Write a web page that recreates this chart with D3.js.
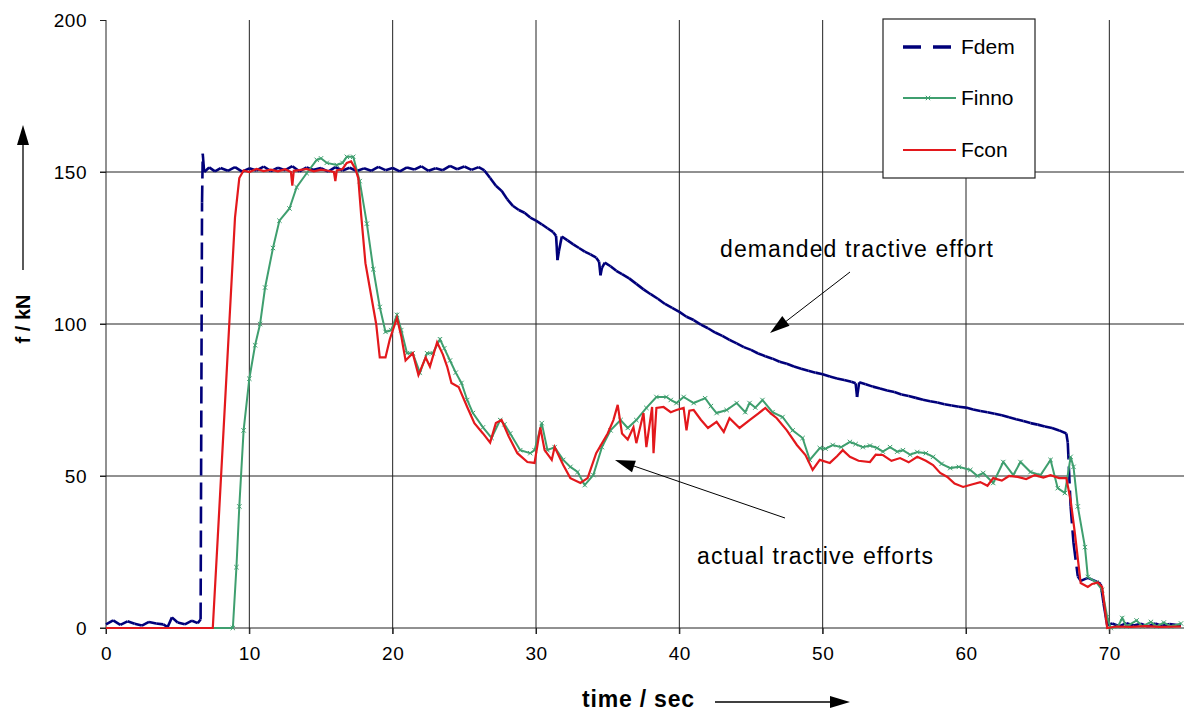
<!DOCTYPE html>
<html lang="en">
<head>
  <meta charset="UTF-8">
  <title>Tractive effort</title>
  <style>
    body { margin: 0; background: #fff; }
    text { font-family: "Liberation Sans", Arial, sans-serif; }
  </style>
</head>
<body>
  <svg id="svg" width="1184" height="716"></svg>

  <script src="https://d3js.org/d3.v7.min.js"></script>
  <script>
    // series: [time in s, force in kN]
    const fdem = [[0,1.2],[0.5,2.5],[1,1.0],[1.5,2.2],[2,1.4],[2.5,0.8],[3,2.0],[3.5,1.5],[4,1.2],[4.3,0.3],[4.6,3.5],[5,1.8],[5.5,1.2],[6,2.4],[6.4,1.6],[6.6,2.8],
      [6.7,140],[6.75,156],[6.85,150],[7.2,151.5],[7.6,150.2],[8,151.3],[8.5,150.4],[9,151.6],[9.5,150.1],[10,151.2],[10.5,150.5],[11,151.8],[11.5,150.3],[12,151.4],[12.5,150.6],[13,151.9],[13.5,150.2],[14,151.5],[14.5,150.7],[15,151.3],[15.5,150.1],[16,151.6],[16.5,150.5],[17,151.4],[17.5,150.3],[18,151.2],[18.5,150.4],[19,151.7],[19.5,150.6],[20,151.3],[20.5,150.2],[21,151.5],[21.5,150.8],[22,151.9],[22.5,150.4],[23,151.2],[23.5,150.6],[24,152.0],[24.5,150.9],[25,151.8],[25.5,150.7],[26,151.6],[26.4,150.5],
      [26.8,148],[27.2,145.5],[27.6,143.8],[28,141],[28.4,138.8],[28.8,137.5],[29.2,136.6],[29.6,135],[30,134],[30.4,132.8],[30.8,131.5],[31.2,130.2],[31.4,129],[31.5,121],[31.6,124],[31.8,128.8],[32.2,127.5],[32.6,126.2],[33,125],[33.4,123.8],[33.8,122.9],[34.2,121.8],[34.4,120.5],[34.5,116],[34.6,118.5],[34.8,120.2],[35.2,119],[35.6,117.5],[36,116.4],[36.5,115],[37,113.2],[37.5,111.4],[38,109.8],[38.5,108.3],[39,106.6],[39.5,105.3],[40,104],[40.5,102.4],[41,101.3],[41.5,99.8],[42,98.6],[42.5,97.2],[43,96.1],[43.5,94.8],[44,93.6],[44.5,92.4],[45,91.5],[45.5,90.3],[46,89.4],[46.5,88.6],[47,87.6],[47.5,86.9],[48,86],[48.5,85.3],[49,84.6],[49.5,84],[50,83.5],[50.5,82.7],[51,82.1],[51.5,81.6],[52,81],[52.3,80.5],[52.4,76],[52.55,80.8],[53,80.2],[53.5,79.4],[54,78.8],[54.5,78.1],[55,77.6],[55.5,76.8],[56,76.3],[56.5,75.7],[57,75.1],[57.5,74.6],[58,74.2],[58.5,73.6],[59,73.2],[59.5,72.8],[60,72.5],[60.5,71.9],[61,71.4],[61.5,71],[62,70.5],[62.5,70],[63,69.3],[63.5,68.7],[64,68.1],[64.5,67.4],[65,66.9],[65.5,66.3],[66,65.8],[66.5,65],[67,64],
      [67.1,61],[67.3,40],[67.5,28],[67.8,17],[68,15.5],[68.5,16.5],[69,15.5],[69.4,14.5],[69.6,8],[69.85,1],[70.2,1.5],[70.7,0.6],[71.2,1.6],[71.7,0.8],[72.2,1.4],[72.7,0.5],[73.2,1.5],[73.7,0.7],[74.2,1.3],[75,0.8]]

    const finno = [[0,0],[8.85,0],[9.1,20],[9.3,40],[9.6,65],[10.0,82],[10.4,93],[10.75,100],[11.1,112],[11.65,125],[12.1,134],[12.8,138],[13.3,145],[14.0,149.6],[14.7,154],[15.0,154.5],[15.4,153],[16.1,152.3],[16.5,153],[16.8,155],[17.25,155],[17.7,147],[18.2,133],[18.65,118],[19.1,105.6],[19.5,97.4],[19.9,98],[20.3,103],[20.6,98],[21.0,90.4],[21.4,90.4],[21.9,84],[22.4,90.4],[22.8,90.4],[23.3,95],[23.6,92],[24.0,88],[24.4,84],[24.8,80.6],[25.2,75],[25.6,70.7],[26.3,66],[26.9,62.5],[27.5,68.4],[27.8,67],[28.2,64],[28.9,58.5],[29.6,57.5],[29.9,58.5],[30.4,67.4],[30.8,58.5],[31.3,59.5],[31.9,55.3],[32.4,53],[32.9,51.3],[33.4,47],[34.0,50.3],[34.6,59.5],[35.2,65],[35.9,68.4],[36.4,65.8],[37.0,68.4],[37.7,72.4],[38.4,76],[39.1,76],[39.4,75],[39.8,74],[40.3,76],[41.0,74],[41.8,75.6],[42.2,73],[42.6,70.7],[43.3,71.7],[44.0,74],[44.6,71],[44.9,74],[45.3,72.5],[45.8,75],[46.5,71],[47.2,69.4],[47.9,65],[48.6,62.5],[49.1,55.3],[49.8,59.2],[50.2,59],[50.7,60.2],[51.3,59.5],[51.9,61.2],[52.3,60.5],[52.8,59.5],[53.3,60],[53.8,59.2],[54.2,58],[54.7,59.5],[55.2,58],[55.6,58.5],[56.1,57],[56.6,57.9],[57.2,57.5],[57.7,56.3],[58.3,54],[58.9,52.6],[59.5,53],[60.3,52],[60.8,50],[61.2,51],[61.9,47.7],[62.6,54.6],[63.3,50.3],[63.8,54.6],[64.5,51.3],[65.2,50.3],[65.9,55.3],[66.4,46],[66.9,44.4],[67.3,56.3],[67.5,53],[67.8,40],[68.3,26.6],[68.5,16.8],[69.1,15],[69.5,12.5],[69.85,3.6],[70.1,0],[70.6,0.5],[70.9,3.3],[71.2,0.5],[71.9,2.5],[72.3,0.5],[72.9,2],[73.3,0.5],[73.8,1.8],[74.3,0.5],[75,1.5]]

    const fcon = [[0,0],[7.45,0],[7.8,30],[8.2,65],[8.6,100],[9.0,135],[9.3,148],[9.6,150.5],[10,150],[10.5,151],[11,150.3],[11.5,150.8],[12,150.2],[12.5,150.9],[12.9,150],[13.0,145.5],[13.1,150.4],[13.5,150.6],[14,151],[14.5,150.2],[15,150.8],[15.5,150.4],[15.9,150],[16.0,147],[16.1,150.5],[16.5,151],[16.8,153],[17.1,153.5],[17.4,151],[17.6,148],[17.8,136],[18.1,120],[18.4,112],[18.85,100],[19.1,89],[19.5,89],[19.8,95],[20.3,102],[20.6,96],[20.9,88],[21.4,90.4],[21.8,83.2],[22.3,89],[22.6,86],[23.1,94],[23.5,90],[23.8,86],[24.1,80.6],[24.6,79.3],[25.2,72.7],[25.7,67.4],[26.3,64],[26.8,61],[27.2,67.4],[27.6,68.4],[28.1,63],[28.7,57.5],[29.4,54.6],[29.9,54.3],[30.3,66],[30.6,58.5],[31.1,55.3],[31.3,59.5],[31.9,53.6],[32.4,49.3],[33.1,47.7],[33.6,49.3],[34.2,57.5],[35.0,64],[35.4,68.4],[35.7,73.4],[36.0,64],[36.4,62],[36.8,66],[37.0,60.8],[37.5,70.7],[37.7,59.5],[38.1,72.7],[38.2,57.5],[38.4,72.4],[38.9,72.7],[39.4,71],[39.8,71.7],[40.3,72.4],[40.5,65],[40.7,71.5],[41.0,71.7],[41.5,68.5],[42.0,65.8],[42.6,67.8],[43.1,64.5],[43.5,69],[44.2,65.8],[44.9,68.4],[45.5,70.5],[46.0,72.4],[46.4,70.5],[46.8,69],[47.5,65],[48.2,60.2],[48.8,56.9],[49.3,52],[49.8,55.3],[50.5,54.3],[51.0,56.5],[51.4,58.5],[51.9,56.3],[52.5,55],[53.3,54.6],[53.7,57],[54.2,56.9],[54.8,55],[55.4,55.9],[56.0,54.5],[56.6,56.3],[57.2,55],[57.7,53.6],[58.2,51],[58.7,49.7],[59.2,47.5],[59.8,46.4],[60.4,47.2],[61.0,48],[61.5,46.8],[61.9,49.3],[62.5,48.5],[63.0,50],[63.6,49.7],[64.2,49],[64.8,50.3],[65.4,49.5],[65.9,50.3],[66.5,49.3],[67.0,49.3],[67.3,42],[67.6,31],[68.0,14.8],[68.5,13.5],[68.8,14.5],[69.2,15],[69.5,13.5],[69.85,0],[70.5,0.5],[71.5,0.4],[72.5,0.6],[73.5,0.4],[75,0.5]]

    const xTicks = [0, 10, 20, 30, 40, 50, 60, 70]
    const yTicks = [0, 50, 100, 150, 200]
    const seriesNames = ['Fdem', 'Finno', 'Fcon']
    const seriesColors = ['#00007a', '#3f9f6f', '#e3181c']

    const svg = d3.select('#svg')

    const xScale = d3.scaleLinear().domain([0, 75]).range([106, 1181])
    const yScale = d3.scaleLinear().domain([0, 200]).range([628, 20])

    // grid
    svg.append('g')
      .selectAll('line')
      .data(xTicks.slice(1))
      .enter()
      .append('line')
      .attr('x1', d => xScale(d)).attr('x2', d => xScale(d))
      .attr('y1', yScale(200)).attr('y2', yScale(0) + 6)
      .attr('stroke', '#222').attr('stroke-width', 1)

    svg.append('g')
      .selectAll('line')
      .data([50, 100, 150])
      .enter()
      .append('line')
      .attr('x1', 100).attr('x2', 1184)
      .attr('y1', d => yScale(d)).attr('y2', d => yScale(d))
      .attr('stroke', '#222').attr('stroke-width', 1)

    // axes
    const xAxis = svg.append('g')
      .attr('transform', `translate(0,${yScale(0)})`)
      .call(d3.axisBottom(xScale).tickValues(xTicks).tickSize(6).tickSizeOuter(0).tickPadding(13))
    xAxis.select('.domain').attr('d', `M100,0H1184`).attr('stroke', '#222')
    xAxis.selectAll('.tick line').attr('stroke', '#222')
    xAxis.selectAll('text')
      .style('font-size', '19px').style('font-family', '"Liberation Sans", Arial, sans-serif')
      .attr('fill', '#000').attr('letter-spacing', '0.5px')

    const yAxis = svg.append('g')
      .attr('transform', `translate(${xScale(0)},0)`)
      .call(d3.axisLeft(yScale).tickValues(yTicks).tickSize(6).tickSizeOuter(0).tickPadding(13))
    yAxis.select('.domain').attr('d', `M0,${yScale(200)}V${yScale(0) + 6}`).attr('stroke', '#222')
    yAxis.selectAll('.tick line').attr('stroke', '#222')
    yAxis.selectAll('text')
      .style('font-size', '19px').style('font-family', '"Liberation Sans", Arial, sans-serif')
      .attr('fill', '#000').attr('letter-spacing', '0.5px')

    const line = d3.line().x(d => xScale(d[0])).y(d => yScale(d[1]))

    // Fdem: dashed only on the long steep jumps, as Excel restarts the dash per segment
    const pairs = d3.pairs(fdem)
    svg.append('g')
      .selectAll('line')
      .data(pairs)
      .enter()
      .append('line')
      .attr('x1', d => xScale(d[0][0])).attr('y1', d => yScale(d[0][1]))
      .attr('x2', d => xScale(d[1][0])).attr('y2', d => yScale(d[1][1]))
      .attr('stroke', seriesColors[0])
      .attr('stroke-width', 2.6)
      .attr('stroke-linecap', 'butt')
      .attr('stroke-dasharray', d => Math.abs(yScale(d[1][1]) - yScale(d[0][1])) > 25 ? '17,7' : null)

    svg.append('path')
      .datum(finno)
      .attr('d', line)
      .attr('fill', 'none')
      .attr('stroke', seriesColors[1])
      .attr('stroke-width', 2)

    const cross = 2.2
    svg.append('g')
      .selectAll('path')
      .data(finno.filter(d => d[0] > 8))
      .enter()
      .append('path')
      .attr('d', d => {
        const x = xScale(d[0]), y = yScale(d[1])
        return `M${x - cross},${y - cross}L${x + cross},${y + cross}M${x - cross},${y + cross}L${x + cross},${y - cross}`
      })
      .attr('stroke', seriesColors[1]).attr('stroke-width', 1)

    svg.append('path')
      .datum(fcon)
      .attr('d', line)
      .attr('fill', 'none')
      .attr('stroke', seriesColors[2])
      .attr('stroke-width', 2.2)

    // legend
    const legend = svg.append('g')
    legend.append('rect')
      .attr('x', 883).attr('y', 19).attr('width', 152).attr('height', 159)
      .attr('fill', '#fff').attr('stroke', '#222').attr('stroke-width', 1.2)

    const rowY = [47, 98, 150]
    seriesNames.forEach((name, i) => {
      const ln = legend.append('line')
        .attr('x1', 903).attr('x2', 956)
        .attr('y1', rowY[i]).attr('y2', rowY[i])
        .attr('stroke', seriesColors[i])
        .attr('stroke-width', i === 0 ? 3.5 : 2)
      if (i === 0) ln.attr('stroke-dasharray', '18,12')
      if (i === 1) {
        legend.append('path')
          .attr('d', `M${928 - cross},${rowY[i] - cross}L${928 + cross},${rowY[i] + cross}M${928 - cross},${rowY[i] + cross}L${928 + cross},${rowY[i] - cross}`)
          .attr('stroke', seriesColors[1]).attr('stroke-width', 1)
      }
      legend.append('text')
        .attr('x', 961).attr('y', rowY[i] + 7)
        .style('font-size', '21px')
        .text(name)
    })

    // axis titles with arrows
    const arrowHead = (x, y, ang) => {
      // triangle pointing along angle ang (radians), tip at x,y
      const len = 20, half = 6
      const bx = x - Math.cos(ang) * len, by = y - Math.sin(ang) * len
      const px = -Math.sin(ang) * half, py = Math.cos(ang) * half
      return `M${x},${y}L${bx + px},${by + py}L${bx - px},${by - py}Z`
    }

    svg.append('text')
      .attr('transform', 'translate(30,319) rotate(-90)')
      .attr('text-anchor', 'middle')
      .style('font-size', '20px').style('font-weight', 'bold')
      .text('f / kN')
    svg.append('line')
      .attr('x1', 23).attr('x2', 23).attr('y1', 270).attr('y2', 140)
      .attr('stroke', '#000').attr('stroke-width', 1.3)
    svg.append('path').attr('d', arrowHead(23, 125, -Math.PI / 2)).attr('fill', '#000')

    svg.append('text')
      .attr('x', 582).attr('y', 707)
      .style('font-size', '23px').style('font-weight', 'bold')
      .attr('letter-spacing', '0.8px')
      .text('time / sec')
    svg.append('line')
      .attr('x1', 715).attr('x2', 835).attr('y1', 702).attr('y2', 702)
      .attr('stroke', '#000').attr('stroke-width', 1.3)
    svg.append('path').attr('d', arrowHead(850, 702, 0)).attr('fill', '#000')

    // annotations
    svg.append('text')
      .attr('x', 720).attr('y', 257)
      .style('font-size', '23px').attr('letter-spacing', '1.1px')
      .text('demanded tractive effort')
    svg.append('line')
      .attr('x1', 850).attr('y1', 272).attr('x2', 780).attr('y2', 326)
      .attr('stroke', '#000').attr('stroke-width', 1)
    svg.append('path')
      .attr('d', arrowHead(770, 333, Math.atan2(333 - 272, 770 - 850)))
      .attr('fill', '#000')

    svg.append('text')
      .attr('x', 697).attr('y', 564)
      .style('font-size', '23px').attr('letter-spacing', '1.1px')
      .text('actual tractive efforts')
    svg.append('line')
      .attr('x1', 785).attr('y1', 518).attr('x2', 628).attr('y2', 464)
      .attr('stroke', '#000').attr('stroke-width', 1)
    svg.append('path')
      .attr('d', arrowHead(615, 460, Math.atan2(460 - 518, 615 - 785)))
      .attr('fill', '#000')
  </script>
</body>
</html>
